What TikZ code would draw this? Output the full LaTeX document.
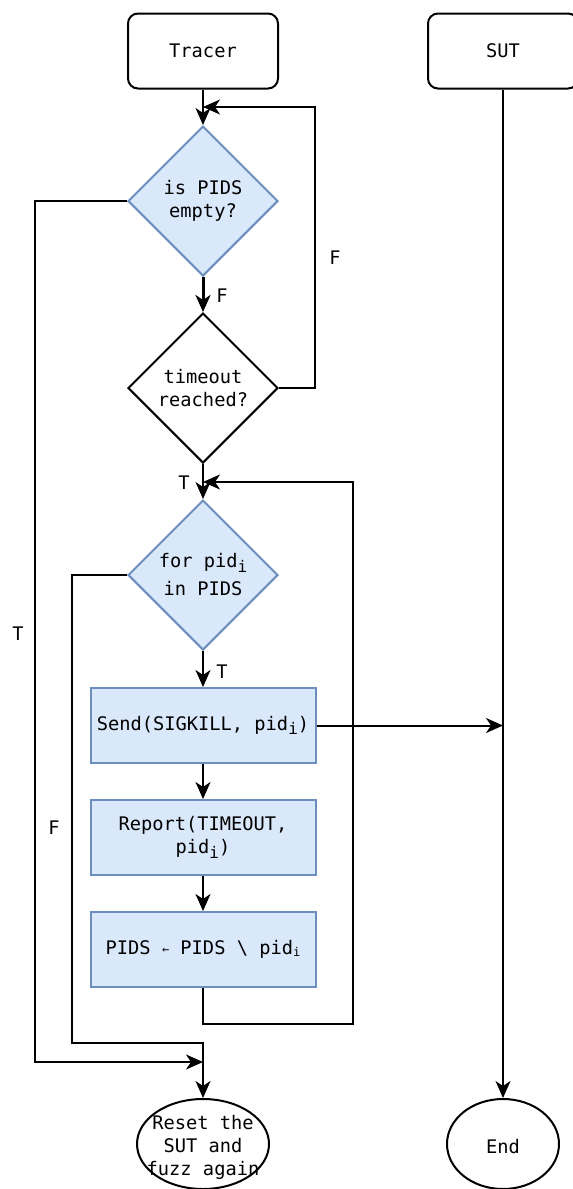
\documentclass[tikz,border=0pt]{standalone}
\usepackage{fontspec}
\setmainfont{DejaVu Sans Mono}
\usetikzlibrary{shapes.geometric,arrows.meta}
\definecolor{bfill}{HTML}{DAE8FC}
\definecolor{bdraw}{HTML}{6C8EBF}
\newcommand{\sub}[1]{\raisebox{-0.45ex}{\fontsize{16}{16}\selectfont #1}}
\newcommand{\subsm}[1]{\raisebox{-0.15ex}{\fontsize{12}{12}\selectfont #1}}
\tikzset{
  base/.style={font=\fontsize{18.7}{23}\selectfont, align=center, inner sep=0pt},
  startbox/.style={base, draw=black, line width=2pt, rounded corners=10pt, minimum width=150pt, minimum height=75pt},
  decblue/.style={base, diamond, draw=bdraw, fill=bfill, line width=2pt, minimum width=150pt, minimum height=150pt},
  decwhite/.style={base, diamond, draw=black, line width=2pt, minimum width=150pt, minimum height=150pt},
  procbox/.style={base, draw=bdraw, fill=bfill, line width=2pt, minimum width=225pt, minimum height=75pt},
  endell/.style={ellipse, draw=black, line width=2pt, inner sep=0pt},
  lbl/.style={base},
  arr/.style={draw=black, line width=2pt, -{Stealth[length=17pt,width=15pt,inset=5pt]}},
}
\begin{document}
\begin{tikzpicture}[x=1pt,y=-1pt]
\useasboundingbox (0,0) rectangle (573,1189);
% nodes
\node[startbox] (tracer) at (203,51) {Tracer};
\node[startbox] (sut) at (503,51) {SUT};
\node[decblue] (d1) at (203,201) {is PIDS\\empty?};
\node[decwhite] (d2) at (203,388) {timeout\\reached?};
\node[decblue] (d3) at (203,575) {for pid\sub{i}\\[5pt]in PIDS};
\node[procbox] (send) at (203,725.5) {Send(SIGKILL, pid\sub{i})};
\node[procbox] (report) at (203,837.5) {Report(TIMEOUT,\\pid\sub{i})};
\node[procbox] (pids) at (203,949.5) {PIDS \raisebox{0.1ex}{\fontsize{12}{12}\selectfont ←} PIDS \textbackslash{} pid\subsm{i}};
\node[endell, minimum width=132pt, minimum height=90pt] (reset) at (203,1144) {};
\node[base] (resettext) at (203,1147) {Reset the\\SUT and\\fuzz again};
\node[endell, minimum width=112pt, minimum height=90pt] (endn) at (503,1144) {};
\node[base] (endtext) at (503,1147) {End};
% coordinates
\coordinate (c1) at (315,107);
\coordinate (c2) at (353,1024);
\coordinate (c3) at (353,482);
\coordinate (c4) at (35,1062);
\coordinate (c5) at (72,1043);
% connectors
\draw[arr] (tracer.south) -- (d1.north);
\draw[arr, line width=3pt] (d1.south) -- (d2.north);
\draw[arr] (d2.east) -| (c1) -- (c1 -| d1.north);
\draw[arr] (d2.south) -- (d3.north);
\draw[arr] (d3.south) -- (send.north);
\draw[arr] (send.south) -- (report.north);
\draw[arr] (report.south) -- (pids.north);
\draw[arr] (pids.south) |- (c2) -- (c3) -- (c3 -| d3.north);
\draw[arr] (send.east) -- (send.east -| sut.south);
\draw[arr] (sut.south) -- (endn.north);
\draw[arr] (d1.west) -| (c4) -- (c4 -| reset.north);
\draw[arr] (d3.west) -| (c5) -| (reset.north);
% labels
\node[lbl] (lf1) at (222,296) {F};
\node[lbl] (lf2) at (335,258) {F};
\node[lbl] (lt1) at (184,483) {T};
\node[lbl] (lt2) at (222,672) {T};
\node[lbl] (lt3) at (18,634) {T};
\node[lbl] (lf3) at (54,828) {F};
\end{tikzpicture}
\end{document}
